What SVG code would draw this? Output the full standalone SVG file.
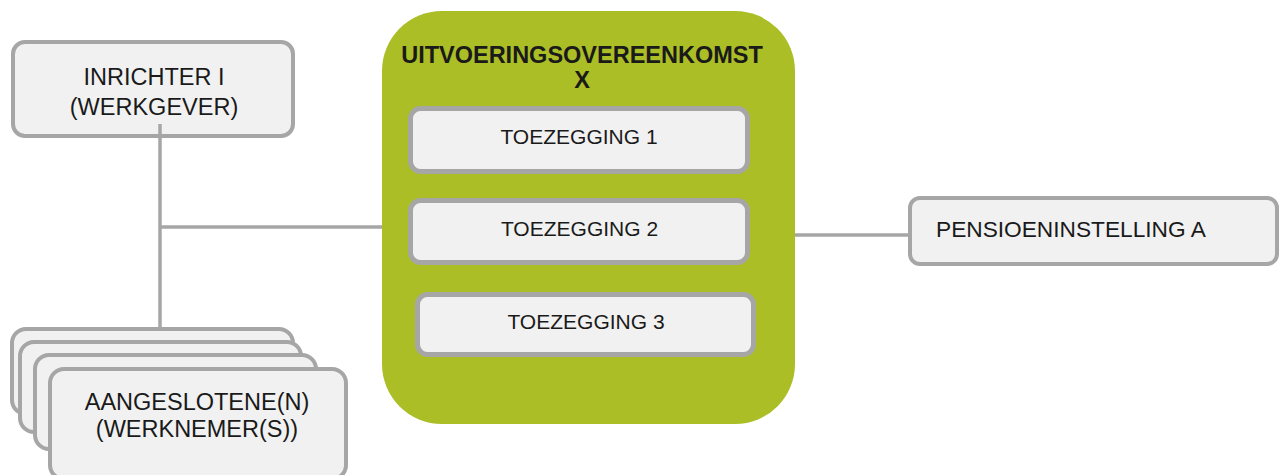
<svg xmlns="http://www.w3.org/2000/svg" width="1279" height="475" viewBox="0 0 1279 475">
<style>
.box{fill:#f1f1f1;stroke:#a6a6a6;stroke-width:4}
.tz{fill:#f1f1f1;stroke:#a6a6a6;stroke-width:5}
.t{font-family:"Liberation Sans",Arial,sans-serif;fill:#1a1a1a;text-anchor:middle}
.conn{stroke:#a6a6a6;stroke-width:3.5;fill:none}
</style>
<rect width="1279" height="475" fill="#ffffff"/>
<g id="inrichter">
<rect class="box" x="13" y="42" width="280" height="94" rx="12"/>
<text class="t" x="154" y="85" font-size="23.5">INRICHTER I</text>
<text class="t" x="154" y="115" font-size="23.5">(WERKGEVER)</text>
</g>
<g id="aangeslotenen">
<rect class="box" x="12" y="329" width="281" height="85" rx="14"/>
<rect class="box" x="20" y="342" width="281" height="90" rx="14"/>
<rect class="box" x="35" y="355" width="281" height="94" rx="14"/>
<rect class="box" x="50" y="369" width="296" height="110" rx="14"/>
<text class="t" x="197" y="410" font-size="23.5">AANGESLOTENE(N)</text>
<text class="t" x="197" y="437" font-size="23.5">(WERKNEMER(S))</text>
</g>
<g id="uitvoeringsovereenkomst">
<rect x="382" y="11" width="413" height="413" rx="60" fill="#abbe26"/>
<text class="t" x="582" y="62.5" font-size="23.5" font-weight="bold" fill="#000">UITVOERINGSOVEREENKOMST</text>
<text class="t" x="582" y="88" font-size="23.5" font-weight="bold" fill="#000">X</text>
</g>
<g id="toezegging1">
<rect class="tz" x="410.5" y="108.5" width="337" height="63" rx="10"/>
<text class="t" x="579" y="144" font-size="21">TOEZEGGING 1</text>
</g>
<g id="toezegging2">
<rect class="tz" x="410.5" y="200.5" width="337" height="62" rx="10"/>
<text class="t" x="579.5" y="236" font-size="21">TOEZEGGING 2</text>
</g>
<g id="toezegging3">
<rect class="tz" x="417.5" y="294.5" width="336" height="60" rx="10"/>
<text class="t" x="586" y="329" font-size="21">TOEZEGGING 3</text>
</g>
<g id="pensioeninstelling">
<rect class="box" x="910" y="198" width="367" height="66" rx="10"/>
<text class="t" x="936" y="237" font-size="22.7" style="text-anchor:start">PENSIOENINSTELLING A</text>
</g>
<g id="connectors">
<line class="conn" x1="160" y1="124" x2="160" y2="327"/>
<line class="conn" x1="160" y1="227" x2="382" y2="227"/>
<line class="conn" x1="795" y1="235" x2="910" y2="235"/>
</g>
</svg>
